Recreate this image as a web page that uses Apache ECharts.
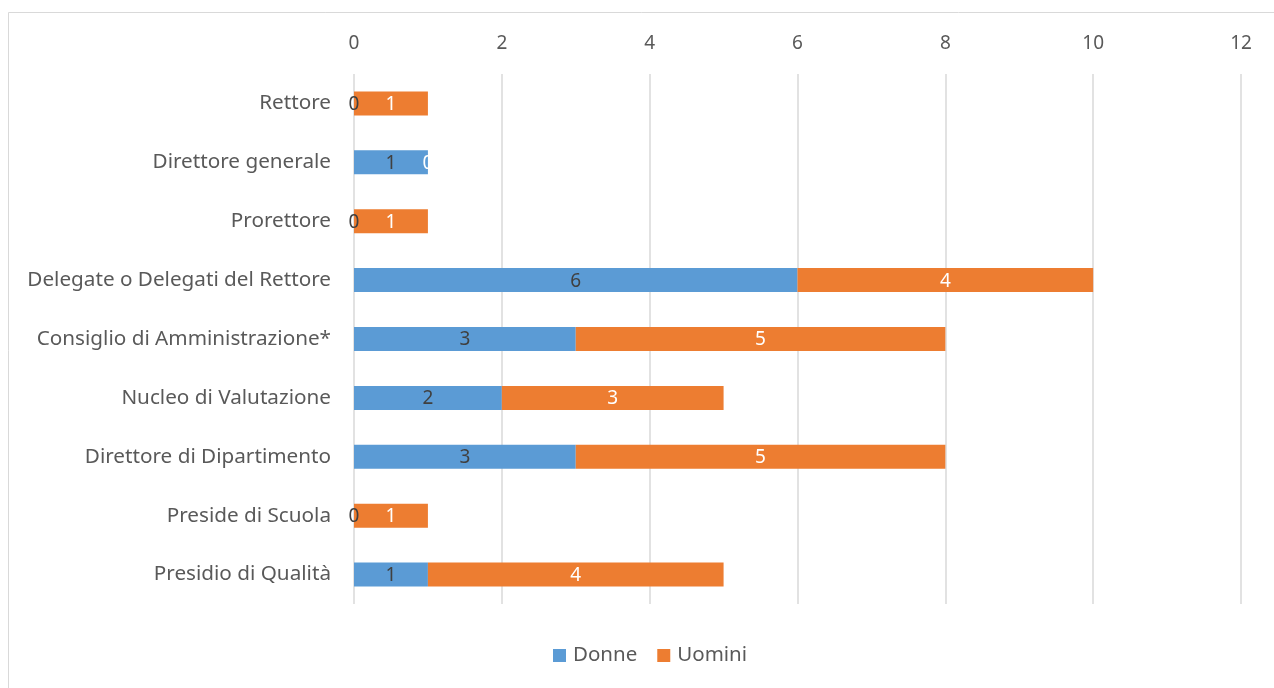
<!DOCTYPE html>
<html>
<head>
<meta charset="utf-8">
<script src="https://cdn.jsdelivr.net/npm/echarts@6/dist/echarts.min.js"></script>
<style>
  html, body { margin: 0; padding: 0; background: #fff; }
  #chart { width: 1274px; height: 688px; }
</style>
</head>
<body>
<div id="chart"></div>
<script>
// dati
const categories = [
  'Rettore',
  'Direttore generale',
  'Prorettore',
  'Delegate o Delegati del Rettore',
  'Consiglio di Amministrazione*',
  'Nucleo di Valutazione',
  'Direttore di Dipartimento',
  'Preside di Scuola',
  'Presidio di Qualità'
]
const donne = [0, 1, 0, 6, 3, 2, 3, 0, 1]
const uomini = [1, 0, 1, 4, 5, 3, 5, 1, 4]
const xTicks = { min: 0, max: 12, interval: 2 }

const FONT = 'Noto Sans'
const chart = echarts.init(document.getElementById('chart'))

chart.setOption({
  backgroundColor: '#fff',
  animation: false,
  textStyle: { fontFamily: FONT },
  graphic: [{
    type: 'rect',
    shape: { x: 8.5, y: 12.5, width: 1300, height: 700 },
    style: { fill: 'none', stroke: '#d9d9d9', lineWidth: 1 },
    silent: true
  }],
  grid: { left: 354, right: 33, top: 74, height: 530 },
  legend: {
    data: ['Donne', 'Uomini'],
    bottom: 17,
    left: 548,
    itemWidth: 13,
    itemHeight: 13,
    itemGap: 20,
    icon: 'rect',
    textStyle: { fontFamily: FONT, fontSize: 20.5, color: '#595959', padding: [0, 0, 0, 2] }
  },
  xAxis: {
    type: 'value',
    position: 'top',
    min: xTicks.min,
    max: xTicks.max,
    interval: xTicks.interval,
    axisLine: { show: false },
    axisTick: { show: false },
    axisLabel: { fontFamily: FONT, fontSize: 19, color: '#595959', margin: 21 },
    splitLine: { show: true, lineStyle: { color: '#d9d9d9', width: 1.5 } }
  },
  yAxis: {
    type: 'category',
    data: categories,
    inverse: true,
    axisLine: { show: false },
    axisTick: { show: false },
    axisLabel: { fontFamily: FONT, fontSize: 20.7, color: '#595959', margin: 23 }
  },
  series: [
    {
      name: 'Donne',
      type: 'bar',
      stack: 'tot',
      data: donne,
      barWidth: 24,
      itemStyle: { color: '#5b9bd5' },
      label: { show: true, position: 'inside', color: '#404040', fontSize: 19, fontFamily: FONT, offset: [0, 1] }
    },
    {
      name: 'Uomini',
      type: 'bar',
      stack: 'tot',
      data: uomini,
      barWidth: 24,
      itemStyle: { color: '#ed7d31' },
      label: { show: true, position: 'inside', color: '#fff', fontSize: 19, fontFamily: FONT, offset: [0, 1] }
    }
  ]
})
</script>
</body>
</html>
